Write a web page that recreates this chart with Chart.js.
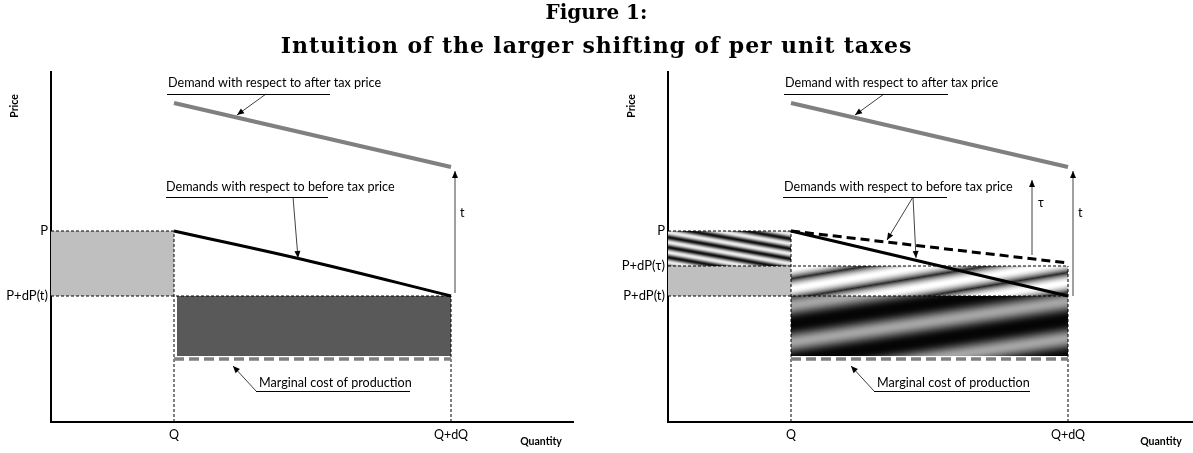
<!DOCTYPE html>
<html>
<head>
<meta charset="utf-8">
<script src="https://cdn.jsdelivr.net/npm/chart.js@4.4.0/dist/chart.umd.min.js"></script>
<style>
html, body { margin: 0; padding: 0; background: #fff; }
body { width: 1193px; height: 453px; position: relative; overflow: hidden; }
#title { position: absolute; left: 0; top: -4px; width: 1193px; text-align: center;
         font: bold 20px "DejaVu Serif"; line-height: 33px; color: #000; z-index: 2; }
#title span { font-size: 22px; letter-spacing: 0.9px; }
.wrap { position: absolute; top: 0; height: 453px; }
</style>
</head>
<body>
<div id="title">Figure 1:<br><span>Intuition of the larger shifting of per unit taxes</span></div>
<div class="wrap" style="left:0;width:590px"><canvas id="left" width="590" height="453"></canvas></div>
<div class="wrap" style="left:600px;width:593px"><canvas id="right" width="593" height="453"></canvas></div>
<script>
// values (arbitrary units, both panels share them)
const quantityLabels = ['Q', 'Q+dQ'];
const quantityValues = [12.3, 40.0];
const priceLabelsLeft = ['P', 'P+dP(t)'];
const priceValuesLeft = [19.1, 12.6];
const priceLabelsRight = ['P', 'P+dP(τ)', 'P+dP(t)'];
const priceValuesRight = [19.1, 15.6, 12.6];

const afterTaxDemand = [31.9, 25.5];                 // at Q and Q+dQ
const curveX = [12.3, 26.0, 40.0];
const beforeTaxDemandLeft = [19.1, 16.05, 12.6];
const beforeTaxDemandT = [19.1, 12.6];               // right panel, tax t
const beforeTaxDemandTau = [19.1, 15.9];             // right panel, tax tau
const marginalCost = 6.3;
const boxBottom = 6.6;
const taxArrowT = [40.4, 12.9, 25.1];                // x, from y, to y
const taxArrowTau = [36.4, 16.7, 24.2];

const [Q, QdQ] = quantityValues;
const P = 19.1, PdPtau = 15.6, PdPt = 12.6;

// wavy grey stripes like the shaded areas of the figure
function wavePattern(w, h, slope, lo, hi, sharp) {
  const c = document.createElement('canvas');
  c.width = w; c.height = h;
  const g = c.getContext('2d');
  const img = g.createImageData(w, h);
  for (let y = 0; y < h; y++) {
    for (let x = 0; x < w; x++) {
      const ph = (y + slope * x) / h * 2 * Math.PI;
      const t = Math.pow((1 + Math.cos(ph)) / 2, sharp);
      const v = lo + (hi - lo) * t;
      const i = (y * w + x) * 4;
      img.data[i] = img.data[i + 1] = img.data[i + 2] = v;
      img.data[i + 3] = 255;
    }
  }
  g.putImageData(img, 0, 0);
  return g.createPattern(c, 'repeat');
}
const stripesSmall = wavePattern(57, 10, -10 / 57, 15, 235, 0.8);
const stripesLight = wavePattern(120, 20, 20 / 120, 40, 255, 0.45);
const stripesDark = wavePattern(250, 37, 37 / 250, 5, 165, 1.4);

const seg = (pts, style) => Object.assign({
  data: pts.map(([x, y]) => ({ x, y })),
  pointRadius: 0, borderWidth: 1, borderColor: '#000', fill: false, tension: 0, order: 1
}, style);
const box = (x1, x2, top, bottom, color) => seg([[x1, top], [x2, top]], {
  borderColor: 'rgba(0,0,0,0)', borderWidth: 0, fill: { value: bottom }, backgroundColor: color, order: 5
});
const dashed = { borderDash: [3, 2], borderWidth: 1, order: 3 };

const sketchPlugin = {
  id: 'sketch',
  afterDatasetsDraw(chart, args, opts) {
    const { ctx, chartArea: a, scales: { x, y } } = chart;
    const px = v => x.getPixelForValue(v), py = v => y.getPixelForValue(v);
    ctx.save();
    (opts.arrows || []).forEach(ar => {
      const x1 = px(ar[0]), y1 = py(ar[1]), x2 = px(ar[2]), y2 = py(ar[3]);
      ctx.strokeStyle = '#404040'; ctx.lineWidth = 1;
      ctx.beginPath(); ctx.moveTo(x1, y1); ctx.lineTo(x2, y2); ctx.stroke();
      const ang = Math.atan2(y2 - y1, x2 - x1), L = 7, W = 3;
      const c = Math.cos(ang), s = Math.sin(ang);
      ctx.fillStyle = '#000';
      ctx.beginPath();
      ctx.moveTo(x2, y2);
      ctx.lineTo(x2 - L * c + W * s, y2 - L * s - W * c);
      ctx.lineTo(x2 - L * c - W * s, y2 - L * s + W * c);
      ctx.closePath(); ctx.fill();
    });
    ctx.fillStyle = '#000';
    ctx.font = '12.6px Lato';
    ctx.textBaseline = 'middle';
    ctx.textAlign = 'left';
    (opts.notes || []).forEach(n => {
      ctx.fillText(n.text, px(n.x), py(n.y));
      if (n.line) {
        ctx.strokeStyle = '#000'; ctx.lineWidth = 1;
        ctx.beginPath();
        ctx.moveTo(px(n.line[0]), Math.round(py(n.line[2])) + 0.5);
        ctx.lineTo(px(n.line[1]), Math.round(py(n.line[2])) + 0.5);
        ctx.stroke();
      }
    });
    ctx.font = 'bold 10.5px Lato';
    ctx.textAlign = 'center';
    ctx.fillText('Quantity', a.right - 32, a.bottom + 20);
    ctx.translate(a.left - 36, a.top + 34);
    ctx.rotate(-Math.PI / 2);
    ctx.fillText('Price', 0, 0);
    ctx.restore();
  }
};

function makeChart(id, xMax, yWidth, padRight, priceLabels, priceValues, datasets, sketch) {
  return new Chart(document.getElementById(id), {
    type: 'line',
    data: { datasets },
    plugins: [sketchPlugin],
    options: {
      responsive: false,
      animation: false,
      events: [],
      layout: { padding: { top: 72, right: padRight, left: 0, bottom: 0 } },
      plugins: { legend: { display: false }, tooltip: { enabled: false }, sketch },
      scales: {
        x: {
          type: 'linear', min: 0, max: xMax,
          grid: { display: false, drawTicks: false },
          border: { display: true, color: '#000', width: 2 },
          afterBuildTicks: s => { s.ticks = quantityValues.map(v => ({ value: v })); },
          afterFit: s => { s.height = 31; },
          ticks: { autoSkip: false, maxRotation: 0, padding: 5, color: '#000',
                   font: { family: 'Lato', size: 12.5 }, callback: (v, i) => quantityLabels[i] }
        },
        y: {
          type: 'linear', min: 0, max: 35,
          grid: { display: false, drawTicks: false },
          border: { display: true, color: '#000', width: 2 },
          afterBuildTicks: s => { s.ticks = priceValues.map(v => ({ value: v })); },
          afterFit: s => { s.width = yWidth; },
          ticks: { autoSkip: false, padding: 3, color: '#000',
                   font: { family: 'Lato', size: 13 }, callback: (v, i) => priceLabels[i] }
        }
      }
    }
  });
}

// left panel
makeChart('left', 52.2, 51, 17, priceLabelsLeft, priceValuesLeft, [
  seg(quantityValues.map((q, i) => [q, afterTaxDemand[i]]), { borderColor: '#808080', borderWidth: 4 }),
  seg(curveX.map((q, i) => [q, beforeTaxDemandLeft[i]]), { borderWidth: 3, tension: 0.4 }),
  seg([[Q, marginalCost], [QdQ, marginalCost]], { borderColor: '#808080', borderWidth: 3.5, borderDash: [10, 5], order: 2 }),
  seg([[0, P], [Q, P]], dashed),
  seg([[0, PdPt], [QdQ, PdPt]], dashed),
  seg([[Q, 0], [Q, P]], dashed),
  seg([[QdQ, 0], [QdQ, PdPt]], dashed),
  box(0, Q, P, PdPt, '#bfbfbf'),
  box(Q + 0.3, QdQ, PdPt, boxBottom, '#595959')
], {
  arrows: [
    [taxArrowT[0], taxArrowT[1], taxArrowT[0], taxArrowT[2]],
    [21.5, 32.8, 18.6, 30.7],
    [24.2, 22.5, 24.7, 16.4],
    [20.5, 3.1, 18.2, 5.6]
  ],
  notes: [
    { text: 't', x: 40.9, y: 20.9 },
    { text: 'Demand with respect to after tax price', x: 11.7, y: 33.9, line: [11.6, 27.9, 32.8] },
    { text: 'Demands with respect to before tax price', x: 11.5, y: 23.5, line: [11.5, 27.7, 22.5] },
    { text: 'Marginal cost of production', x: 20.8, y: 3.9, line: [20.5, 35.9, 3.1] }
  ]
});

// right panel
makeChart('right', 52.5, 68, 0, priceLabelsRight, priceValuesRight, [
  seg(quantityValues.map((q, i) => [q, afterTaxDemand[i]]), { borderColor: '#808080', borderWidth: 4 }),
  seg(quantityValues.map((q, i) => [q, beforeTaxDemandT[i]]), { borderWidth: 3 }),
  seg(quantityValues.map((q, i) => [q, beforeTaxDemandTau[i]]), { borderWidth: 3, borderDash: [9, 5] }),
  seg([[Q, marginalCost], [QdQ, marginalCost]], { borderColor: '#808080', borderWidth: 3.5, borderDash: [10, 5], order: 2 }),
  seg([[0, P], [Q, P]], dashed),
  seg([[0, PdPtau], [QdQ, PdPtau]], dashed),
  seg([[0, PdPt], [QdQ, PdPt]], dashed),
  seg([[Q, 0], [Q, P]], dashed),
  seg([[QdQ, 0], [QdQ, PdPtau]], dashed),
  box(0, Q, P, PdPtau, stripesSmall),
  box(0, Q, PdPtau, PdPt, '#bfbfbf'),
  box(Q, QdQ, PdPtau, PdPt, stripesLight),
  box(Q, QdQ, PdPt, boxBottom, stripesDark)
], {
  arrows: [
    [taxArrowT[0] + 0.1, PdPt, taxArrowT[0] + 0.1, taxArrowT[2]],
    [taxArrowTau[0], taxArrowTau[1], taxArrowTau[0], taxArrowTau[2]],
    [21.6, 32.8, 18.7, 30.7],
    [24.5, 22.5, 21.9, 18.2],
    [24.5, 22.5, 24.8, 16.4],
    [20.6, 3.1, 18.3, 5.6]
  ],
  notes: [
    { text: 't', x: 41.0, y: 20.9 },
    { text: 'τ', x: 37.0, y: 21.9 },
    { text: 'Demand with respect to after tax price', x: 11.7, y: 33.9, line: [11.6, 28.0, 32.8] },
    { text: 'Demands with respect to before tax price', x: 11.6, y: 23.5, line: [11.5, 27.9, 22.5] },
    { text: 'Marginal cost of production', x: 20.9, y: 3.9, line: [20.6, 36.2, 3.1] }
  ]
});
</script>
</body>
</html>
